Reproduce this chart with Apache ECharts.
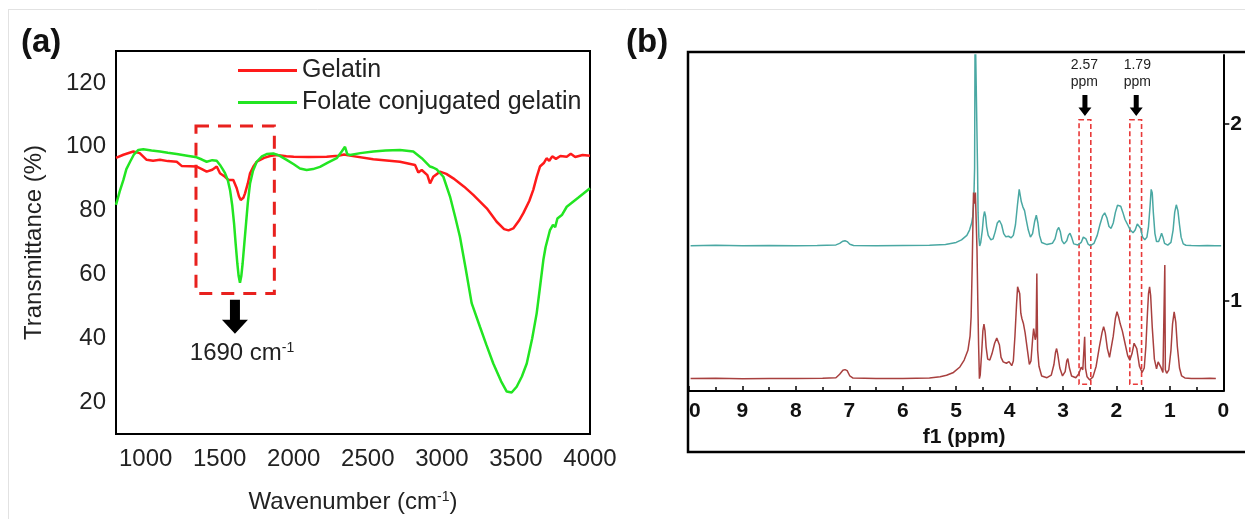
<!DOCTYPE html>
<html><head><meta charset="utf-8">
<script src="https://cdn.jsdelivr.net/npm/echarts@6/dist/echarts.min.js"></script>
<style>html,body{margin:0;padding:0;background:#fff}#c{width:1245px;height:519px}</style>
</head><body><div id="c"></div>
<script>
// ---------- Panel (a): FTIR ----------
const ftirXTicks = [1000, 1500, 2000, 2500, 3000, 3500, 4000];
const ftirYTicks = [20, 40, 60, 80, 100, 120];
const ftirNames = ['Gelatin', 'Folate conjugated gelatin'];
const gelatin = [[800,96.5],[850,97.5],[917,98.5],[960,98.0],[1007,95.9],[1050,95.6],[1097,95.9],[1150,95.5],[1210,95.3],[1243,94.0],[1300,93.9],[1345,93.8],[1380,93.0],[1412,92.2],[1450,92.8],[1480,93.8],[1502,91.7],[1536,90.6],[1558,89.6],[1592,89.6],[1615,87.0],[1630,84.5],[1642,83.3],[1660,84.0],[1671,85.4],[1690,88.5],[1705,91.7],[1730,94.0],[1750,95.3],[1800,96.5],[1840,97.1],[1885,97.4],[1950,97.0],[2000,96.9],[2100,96.8],[2222,96.9],[2300,97.2],[2340,97.6],[2352,98.2],[2368,97.3],[2380,96.7],[2537,96.1],[2717,95.3],[2819,94.3],[2841,91.9],[2864,92.7],[2902,91.1],[2920,88.5],[2942,90.6],[2987,92.2],[3030,91.5],[3077,90.1],[3150,87.5],[3212,84.9],[3303,80.7],[3370,76.5],[3420,74.2],[3450,73.8],[3482,74.4],[3520,76.8],[3550,79.2],[3590,83.0],[3617,86.5],[3640,90.5],[3662,93.8],[3690,95.0],[3707,96.4],[3725,95.6],[3745,97.0],[3770,96.2],[3800,97.1],[3843,96.9],[3870,97.8],[3900,96.8],[3950,97.4],[4000,97.2]];
const folate = [[800,81.8],[825,86.0],[850,89.6],[870,93.0],[895,95.3],[920,97.5],[951,99.0],[984,99.2],[1040,98.8],[1097,98.5],[1150,98.1],[1210,97.7],[1280,97.2],[1345,96.7],[1380,96.0],[1412,95.3],[1450,95.8],[1480,95.6],[1502,94.3],[1520,93.0],[1536,91.7],[1555,89.5],[1570,86.4],[1585,81.5],[1597,76.0],[1608,69.5],[1619,63.5],[1628,59.5],[1637,57.4],[1646,59.5],[1655,63.5],[1666,69.5],[1678,76.0],[1690,82.5],[1705,88.5],[1725,92.5],[1750,95.3],[1785,97.0],[1817,97.7],[1862,97.9],[1900,97.3],[1952,95.9],[2000,94.5],[2042,93.2],[2087,92.7],[2130,93.0],[2177,93.7],[2230,95.0],[2290,96.4],[2324,98.5],[2346,100.0],[2361,97.7],[2380,97.4],[2450,98.0],[2537,98.5],[2620,98.8],[2717,99.0],[2807,98.5],[2864,96.4],[2920,93.8],[2940,93.5],[2965,92.9],[3010,90.6],[3055,84.4],[3090,78.0],[3122,71.8],[3160,62.0],[3201,51.0],[3257,43.6],[3300,38.0],[3347,32.1],[3400,26.5],[3438,23.3],[3471,23.0],[3505,24.8],[3540,28.0],[3573,32.1],[3610,40.0],[3640,47.8],[3665,57.0],[3685,64.5],[3700,68.5],[3730,73.9],[3750,75.5],[3765,74.8],[3780,77.5],[3810,78.6],[3843,81.2],[3920,84.0],[4000,87.0]];
const ftirBox = [[1340, 106.5], [1869, 54]];
const ftirArrow = [1603, 46.7];
const ftirArrowText = [1651, 35.4];

// ---------- Panel (b): 1H NMR ----------
const nmrXTicks = [0,1,2,3,4,5,6,7,8,9,10];
const nmrYTicks = [1, 2];
const nmrUpper = [[9.97,1.312],[9.5,1.314],[9.0,1.311],[8.5,1.313],[8.0,1.311],[7.6,1.313],[7.25,1.316],[7.18,1.325],[7.12,1.337],[7.08,1.340],[7.04,1.335],[6.99,1.320],[6.92,1.313],[6.5,1.312],[6.0,1.313],[5.5,1.314],[5.2,1.318],[5.0,1.330],[4.9,1.345],[4.8,1.37],[4.75,1.40],[4.71,1.44],[4.69,1.476],[4.67,1.56],[4.655,1.75],[4.645,2.6],[4.61,2.6],[4.6,1.75],[4.59,1.50],[4.575,1.36],[4.56,1.31],[4.54,1.33],[4.51,1.40],[4.49,1.47],[4.47,1.505],[4.45,1.48],[4.43,1.42],[4.40,1.37],[4.35,1.345],[4.31,1.35],[4.27,1.39],[4.23,1.44],[4.19,1.454],[4.15,1.43],[4.11,1.38],[4.07,1.362],[4.02,1.365],[3.97,1.356],[3.93,1.37],[3.89,1.43],[3.85,1.55],[3.82,1.63],[3.80,1.62],[3.78,1.56],[3.75,1.53],[3.72,1.51],[3.69,1.46],[3.65,1.40],[3.61,1.36],[3.57,1.38],[3.53,1.45],[3.50,1.484],[3.47,1.44],[3.44,1.37],[3.40,1.33],[3.30,1.318],[3.20,1.325],[3.15,1.35],[3.11,1.40],[3.08,1.415],[3.05,1.39],[3.02,1.34],[2.98,1.322],[2.93,1.34],[2.90,1.37],[2.87,1.382],[2.84,1.36],[2.80,1.322],[2.72,1.316],[2.66,1.33],[2.62,1.36],[2.60,1.367],[2.57,1.35],[2.53,1.32],[2.49,1.312],[2.42,1.325],[2.36,1.37],[2.31,1.43],[2.26,1.48],[2.22,1.497],[2.18,1.47],[2.14,1.42],[2.10,1.41],[2.06,1.44],[2.02,1.50],[1.98,1.54],[1.95,1.548],[1.92,1.535],[1.88,1.50],[1.84,1.46],[1.79,1.43],[1.74,1.40],[1.69,1.385],[1.65,1.40],[1.61,1.435],[1.58,1.441],[1.55,1.41],[1.51,1.36],[1.47,1.345],[1.43,1.36],[1.40,1.42],[1.37,1.54],[1.35,1.63],[1.33,1.61],[1.31,1.50],[1.28,1.38],[1.25,1.335],[1.21,1.335],[1.18,1.36],[1.155,1.382],[1.13,1.36],[1.10,1.325],[1.04,1.315],[0.98,1.33],[0.94,1.40],[0.91,1.50],[0.88,1.543],[0.85,1.51],[0.82,1.43],[0.79,1.36],[0.75,1.322],[0.70,1.314],[0.6,1.313],[0.45,1.312],[0.3,1.313],[0.15,1.311],[0.04,1.312]];
const nmrLower = [[9.97,0.560],[9.5,0.562],[9.0,0.559],[8.5,0.561],[8.0,0.560],[7.5,0.562],[7.25,0.565],[7.18,0.585],[7.12,0.607],[7.08,0.611],[7.04,0.605],[6.99,0.575],[6.93,0.563],[6.5,0.560],[6.0,0.561],[5.5,0.563],[5.3,0.570],[5.18,0.579],[5.05,0.595],[4.93,0.626],[4.85,0.665],[4.78,0.72],[4.74,0.80],[4.72,0.909],[4.70,1.193],[4.68,1.55],[4.675,1.612],[4.665,1.58],[4.65,1.55],[4.64,1.612],[4.625,1.45],[4.61,1.287],[4.595,1.0],[4.58,0.75],[4.565,0.56],[4.55,0.58],[4.52,0.72],[4.50,0.83],[4.48,0.868],[4.46,0.83],[4.44,0.74],[4.41,0.67],[4.37,0.665],[4.33,0.70],[4.28,0.76],[4.24,0.79],[4.22,0.796],[4.19,0.75],[4.16,0.68],[4.12,0.655],[4.06,0.647],[4.01,0.656],[3.96,0.633],[3.93,0.66],[3.90,0.80],[3.87,0.98],[3.85,1.079],[3.83,1.07],[3.81,1.04],[3.79,0.93],[3.77,0.90],[3.74,0.87],[3.71,0.82],[3.67,0.73],[3.63,0.64],[3.60,0.66],[3.57,0.78],[3.55,0.843],[3.52,0.78],[3.505,0.80],[3.49,1.155],[3.475,0.72],[3.45,0.63],[3.40,0.575],[3.30,0.565],[3.22,0.58],[3.17,0.64],[3.14,0.71],[3.12,0.730],[3.10,0.70],[3.06,0.62],[3.01,0.575],[2.96,0.60],[2.93,0.66],[2.91,0.673],[2.88,0.62],[2.84,0.575],[2.76,0.565],[2.70,0.59],[2.66,0.625],[2.63,0.61],[2.605,0.62],[2.595,0.796],[2.58,0.62],[2.55,0.57],[2.50,0.552],[2.44,0.57],[2.38,0.63],[2.32,0.74],[2.27,0.82],[2.24,0.853],[2.21,0.82],[2.17,0.73],[2.13,0.68],[2.10,0.69],[2.06,0.80],[2.02,0.90],[1.99,0.938],[1.96,0.91],[1.93,0.87],[1.89,0.83],[1.84,0.76],[1.79,0.69],[1.75,0.665],[1.71,0.70],[1.67,0.76],[1.65,0.768],[1.62,0.73],[1.57,0.63],[1.52,0.595],[1.48,0.62],[1.45,0.74],[1.42,0.93],[1.40,1.04],[1.38,1.079],[1.36,1.03],[1.33,0.85],[1.29,0.67],[1.25,0.615],[1.22,0.655],[1.20,0.664],[1.17,0.625],[1.13,0.595],[1.105,0.60],[1.095,1.202],[1.085,0.61],[1.06,0.59],[1.02,0.61],[0.98,0.72],[0.95,0.87],[0.92,0.938],[0.89,0.88],[0.86,0.74],[0.82,0.62],[0.78,0.575],[0.72,0.564],[0.6,0.561],[0.4,0.560],[0.25,0.562],[0.14,0.560]];
const nmrBoxes = [[[2.70, 2.024], [2.48, 0.528]], [[1.75, 2.024], [1.53, 0.528]]];
const nmrArrows = [[2.59, 2.104], [1.63, 2.104]];
const nmrLabels = [{pos: [2.60, 2.285], text: '2.57\nppm'}, {pos: [1.61, 2.285], text: '1.79\nppm'}];

const FONT = '"Liberation Sans", Arial, sans-serif';
const chart = echarts.init(document.getElementById('c'), null, {renderer: 'canvas'});
const supRich = {
  a: {fontSize: 24, color: '#222', fontFamily: FONT},
  s: {fontSize: 14, color: '#222', fontFamily: FONT, verticalAlign: 'top', padding: [0, 0, 10, 0]}
};
const arrowPath = 'path://M8,0L18,0L18,20L26,20L13,34L0,20L8,20Z';

chart.setOption({
  animation: false,
  backgroundColor: '#fff',
  title: [
    {text: '(a)', left: 21, top: 26, padding: 0, textStyle: {fontSize: 33, fontWeight: 'bold', color: '#111', fontFamily: FONT}},
    {text: '(b)', left: 626, top: 26, padding: 0, textStyle: {fontSize: 33, fontWeight: 'bold', color: '#111', fontFamily: FONT}}
  ],
  legend: {
    data: ftirNames, orient: 'vertical', left: 238, top: 58, padding: 0,
    icon: 'rect', itemWidth: 59, itemHeight: 3, itemGap: 7,
    textStyle: {fontSize: 25, color: '#222', fontFamily: FONT}
  },
  grid: [
    {left: 116, top: 51, width: 474, height: 383, show: true, borderColor: '#000', borderWidth: 2, backgroundColor: 'transparent'},
    {left: 689, top: 55, width: 535, height: 336, show: false}
  ],
  xAxis: [
    {
      type: 'value', gridIndex: 0, min: 800, max: 4000,
      axisLine: {show: false}, axisTick: {show: false}, splitLine: {show: false},
      axisLabel: {customValues: ftirXTicks, formatter: v => String(v), fontSize: 24, color: '#222', fontFamily: FONT, margin: 13},
      name: '{a|Wavenumber (cm}{s|-1}{a|)}', nameLocation: 'middle', nameGap: 56,
      nameTextStyle: {rich: supRich}
    },
    {
      type: 'value', gridIndex: 1, min: 0, max: 10, interval: 1, inverse: true,
      axisLine: {show: true, onZero: false, lineStyle: {color: '#000', width: 2}},
      axisTick: {show: true, inside: true, length: 5, lineStyle: {color: '#000', width: 1.5}},
      minorTick: {show: true, splitNumber: 2, length: 4, lineStyle: {color: '#000', width: 1.5}},
      splitLine: {show: false},
      axisLabel: {formatter: v => String(v), fontSize: 21, fontWeight: 'bold', color: '#111', fontFamily: FONT, margin: 10},
      name: 'f1 (ppm)', nameLocation: 'middle', nameGap: 32,
      nameTextStyle: {fontSize: 21, fontWeight: 'bold', color: '#111', fontFamily: FONT, padding: [0, 0, 0, 16]}
    }
  ],
  yAxis: [
    {
      type: 'value', gridIndex: 0, min: 10, max: 130,
      axisLine: {show: false}, axisTick: {show: false}, splitLine: {show: false},
      axisLabel: {customValues: ftirYTicks, fontSize: 24, color: '#222', fontFamily: FONT, margin: 10},
      name: 'Transmittance (%)', nameLocation: 'middle', nameGap: 70,
      nameTextStyle: {fontSize: 24, color: '#222', fontFamily: FONT}
    },
    {
      type: 'value', gridIndex: 1, min: 0.49, max: 2.39, position: 'right',
      axisLine: {show: true, onZero: false, lineStyle: {color: '#000', width: 2}},
      axisTick: {show: true, customValues: nmrYTicks, length: 6, lineStyle: {color: '#000', width: 1.5}},
      splitLine: {show: false},
      axisLabel: {customValues: nmrYTicks, fontSize: 21, fontWeight: 'bold', color: '#111', fontFamily: FONT, margin: 7}
    }
  ],
  series: [
    {
      name: ftirNames[0], type: 'line', xAxisIndex: 0, yAxisIndex: 0, data: gelatin,
      symbol: 'none', showSymbol: false, color: '#ff1a1a', lineStyle: {width: 2.5, color: '#ff1a1a'}, z: 3,
      markArea: {
        silent: true,
        itemStyle: {color: 'rgba(0,0,0,0)', borderColor: '#e8211e', borderWidth: 3, borderType: [13, 9]},
        data: [[{coord: ftirBox[0]}, {coord: ftirBox[1]}]]
      },
      markPoint: {
        silent: true,
        data: [
          {coord: ftirArrow, symbol: arrowPath, symbolSize: [26, 34], itemStyle: {color: '#000'}, label: {show: false}},
          {coord: ftirArrowText, symbol: 'rect', symbolSize: 1, itemStyle: {color: 'rgba(0,0,0,0)'},
           label: {show: true, position: 'inside', formatter: '{a|1690 cm}{s|-1}', rich: supRich}}
        ]
      }
    },
    {
      name: ftirNames[1], type: 'line', xAxisIndex: 0, yAxisIndex: 0, data: folate,
      symbol: 'none', showSymbol: false, color: '#22e522', lineStyle: {width: 2.5, color: '#22e522'}, z: 4
    },
    {
      name: 'upper', type: 'line', xAxisIndex: 1, yAxisIndex: 1, data: nmrUpper,
      symbol: 'none', showSymbol: false, lineStyle: {width: 1.5, color: '#4aa8a3'}, z: 3,
      markArea: {
        silent: true,
        itemStyle: {color: 'rgba(0,0,0,0)', borderColor: '#e83a3a', borderWidth: 1.6, borderType: [5, 3]},
        data: nmrBoxes.map(b => [{coord: b[0]}, {coord: b[1]}])
      },
      markPoint: {
        silent: true,
        data: nmrArrows.map(p => ({coord: p, symbol: arrowPath, symbolSize: [13, 21], itemStyle: {color: '#000'}, label: {show: false}}))
          .concat(nmrLabels.map(l => ({coord: l.pos, symbol: 'rect', symbolSize: 1, itemStyle: {color: 'rgba(0,0,0,0)'},
            label: {show: true, position: 'inside', formatter: l.text, fontSize: 14, lineHeight: 17, color: '#222', fontFamily: FONT}})))
      }
    },
    {
      name: 'lower', type: 'line', xAxisIndex: 1, yAxisIndex: 1, data: nmrLower,
      symbol: 'none', showSymbol: false, lineStyle: {width: 1.5, color: '#a8403f'}, z: 3
    }
  ],
  graphic: [
    {type: 'line', shape: {x1: 8.5, y1: 9, x2: 8.5, y2: 519}, style: {stroke: '#e2e2e2', lineWidth: 1}, z: 1},
    {type: 'line', shape: {x1: 8.5, y1: 9.5, x2: 1245, y2: 9.5}, style: {stroke: '#e2e2e2', lineWidth: 1}, z: 1},
    {type: 'rect', shape: {x: 660, y: 396, width: 27, height: 30}, style: {fill: '#fff'}, z: 100},
    {type: 'rect', shape: {x: 688, y: 52, width: 600, height: 400}, style: {fill: 'none', stroke: '#000', lineWidth: 2.5}, z: 101}
  ]
});
</script></body></html>
